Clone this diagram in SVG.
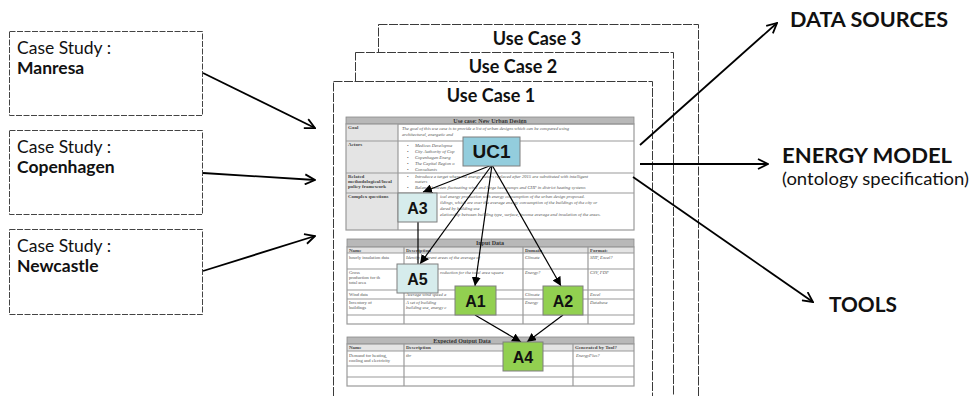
<svg xmlns="http://www.w3.org/2000/svg" width="972" height="396" viewBox="0 0 972 396">
<style>
.page{fill:#fff;stroke:#3a3a3a;stroke-width:1;stroke-dasharray:9 1.5}
.case{fill:#fff;stroke:#444;stroke-width:1;stroke-dasharray:6 1.5}
.lbl{font-family:Lato,"Liberation Sans",sans-serif;fill:#111}
.cs{font-size:17.5px}
.csb{font-size:17.5px;font-weight:bold}
.uct{font-family:Lato,"Liberation Sans",sans-serif;font-size:18px;font-weight:bold;fill:#111;text-anchor:middle}
.big{font-family:Lato,"Liberation Sans",sans-serif;font-size:20px;font-weight:bold;fill:#111}
.out{fill:none;stroke:#000;stroke-width:1.8}
.in{fill:none;stroke:#000;stroke-width:1.2}
.tb{fill:none;stroke:#9a9a9a;stroke-width:1.2}
.hd{fill:#b8b8b8;stroke:#8a8a8a;stroke-width:0.8}
.gc{fill:#e4e4e4}
.th{font-family:"Liberation Serif",serif;font-size:6px;font-weight:bold;fill:#333;text-anchor:middle}
.tc{font-family:"Liberation Serif",serif;font-size:5px;font-weight:bold;fill:#444}
.ti{font-family:"Liberation Serif",serif;font-size:4.6px;font-style:italic;fill:#555}
.tn{font-family:"Liberation Serif",serif;font-size:4.6px;fill:#555}
.nb{stroke:#7f7f7f;stroke-width:1}
.nt{font-family:"Liberation Sans",Arial,sans-serif;font-weight:bold;fill:#111;text-anchor:middle}
</style>
<defs>
<marker id="open" viewBox="0 0 12 12" refX="11" refY="6" markerWidth="12" markerHeight="12" markerUnits="userSpaceOnUse" orient="auto">
<path d="M1,1 L11,6 L1,11" fill="none" stroke="#000" stroke-width="1.8"/>
</marker>
<marker id="tri" viewBox="0 0 10 10" refX="10" refY="5" markerWidth="9" markerHeight="9" markerUnits="userSpaceOnUse" orient="auto">
<path d="M0,0 L10,5 L0,10 Z" fill="#000"/>
</marker>
</defs>

<g id="case-manresa">
<rect class="case" x="9.5" y="31.5" width="193" height="84"/>
<text class="lbl cs" x="17" y="54">Case Study :</text>
<text class="lbl csb" x="17" y="74">Manresa</text>
</g>
<g id="case-copenhagen">
<rect class="case" x="9.5" y="130.5" width="193" height="84"/>
<text class="lbl cs" x="17" y="153">Case Study :</text>
<text class="lbl csb" x="17" y="173">Copenhagen</text>
</g>
<g id="case-newcastle">
<rect class="case" x="9.5" y="229.5" width="193" height="85"/>
<text class="lbl cs" x="17" y="252">Case Study :</text>
<text class="lbl csb" x="17" y="272">Newcastle</text>
</g>

<g id="use-case-3">
<rect class="page" x="378.5" y="24.5" width="320" height="400"/>
<text class="uct" x="537" y="45">Use Case 3</text>
</g>
<g id="use-case-2">
<rect class="page" x="355.5" y="52.5" width="318" height="400"/>
<text class="uct" x="513" y="73">Use Case 2</text>
</g>
<g id="use-case-1">
<rect class="page" x="333.5" y="81.5" width="319" height="400"/>
<text class="uct" x="491" y="102">Use Case 1</text>

<g id="table-use-case">
<rect class="hd" x="346" y="117" width="288" height="7"/>
<text class="th" x="490" y="122.5">Use case: New Urban Design</text>
<rect class="gc" x="346" y="124" width="52" height="106"/>
<rect class="tb" x="346" y="124" width="288" height="106"/>
<line class="tb" x1="398" y1="124" x2="398" y2="230"/>
<line class="tb" x1="346" y1="141" x2="634" y2="141"/>
<line class="tb" x1="346" y1="173" x2="634" y2="173"/>
<line class="tb" x1="346" y1="193" x2="634" y2="193"/>
<text class="tc" x="348" y="129">Goal</text>
<text class="tc" x="348" y="146">Actors</text>
<text class="tc" x="348" y="178">Related</text>
<text class="tc" x="348" y="183">methodological/local</text>
<text class="tc" x="348" y="188">policy framework</text>
<text class="tc" x="348" y="198">Complex questions</text>
<text class="ti" x="402" y="130">The goal of this use case is to provide a list of urban designs which can be compared using</text>
<text class="ti" x="402" y="136">architectural, energetic and</text>
<text class="tn" x="407" y="147">•</text><text class="ti" x="415" y="147">Medicus Developme</text>
<text class="tn" x="407" y="153">•</text><text class="ti" x="415" y="153">City Authority of Cop</text>
<text class="tn" x="407" y="159">•</text><text class="ti" x="415" y="159">Copenhagen Energ</text>
<text class="tn" x="407" y="165">•</text><text class="ti" x="415" y="165">The Capital Region o</text>
<text class="tn" x="407" y="171">•</text><text class="ti" x="415" y="171">Consultants</text>
<text class="tn" x="407" y="178">•</text><text class="ti" x="415" y="178">Introduce a target where the energy meters replaced after 2015 are substituted with intelligent</text>
<text class="ti" x="415" y="183">meters</text>
<text class="tn" x="407" y="189">•</text><text class="ti" x="415" y="189">Balance between fluctuating wind and large heat pumps and CHP in district heating systems</text>
<text class="ti" x="440" y="198">ical energy production with energy consumption of the urban design proposed.</text>
<text class="ti" x="440" y="204">ildings, which are over the average energy consumption of the buildings of the city or</text>
<text class="ti" x="440" y="210">dered by building use</text>
<text class="ti" x="440" y="216">elationship between building type, surface, income average and insulation of the areas.</text>
</g>

<g id="table-input-data">
<rect class="hd" x="347" y="239" width="287" height="8"/>
<text class="th" x="490" y="245">Input Data</text>
<rect class="gc" x="347" y="247" width="287" height="6"/>
<rect class="tb" x="347" y="247" width="287" height="77"/>
<line class="tb" x1="404" y1="247" x2="404" y2="324"/>
<line class="tb" x1="523" y1="247" x2="523" y2="324"/>
<line class="tb" x1="588" y1="247" x2="588" y2="324"/>
<line class="tb" x1="347" y1="253" x2="634" y2="253"/>
<line class="tb" x1="347" y1="269" x2="634" y2="269"/>
<line class="tb" x1="347" y1="290" x2="634" y2="290"/>
<line class="tb" x1="347" y1="299" x2="634" y2="299"/>
<line class="tb" x1="347" y1="315" x2="634" y2="315"/>
<text class="tc" x="349" y="251.5">Name</text>
<text class="tc" x="406" y="251.5">Description</text>
<text class="tc" x="525" y="251.5">Domain</text>
<text class="tc" x="590" y="251.5">Format:</text>
<text class="tn" x="349" y="259">hourly insulation data</text>
<text class="ti" x="406" y="259">Identify different areas of the average of</text>
<text class="ti" x="525" y="259">Climate</text>
<text class="ti" x="590" y="259">SHP, Excel?</text>
<text class="tn" x="349" y="274">Gross</text>
<text class="tn" x="349" y="279">production  for  th</text>
<text class="tn" x="349" y="284">total area</text>
<text class="ti" x="440" y="274">roduction for the total area square</text>
<text class="ti" x="525" y="274">Energy?</text>
<text class="ti" x="590" y="274">CSV, PDF</text>
<text class="tn" x="349" y="296">Wind data</text>
<text class="ti" x="406" y="296">Average wind speed a</text>
<text class="ti" x="525" y="296">Climate</text>
<text class="ti" x="590" y="296">Excel</text>
<text class="tn" x="349" y="304">Inventory               of</text>
<text class="tn" x="349" y="309">buildings</text>
<text class="ti" x="406" y="304">A set of building</text>
<text class="ti" x="406" y="309">building use, energy c</text>
<text class="ti" x="525" y="304">Energy</text>
<text class="ti" x="590" y="304">Database</text>
</g>

<g id="table-output-data">
<rect class="hd" x="347" y="337" width="287" height="7"/>
<text class="th" x="462" y="342.5">Expected Output Data</text>
<rect class="gc" x="347" y="344" width="287" height="7"/>
<rect class="tb" x="347" y="344" width="287" height="42"/>
<line class="tb" x1="404" y1="344" x2="404" y2="386"/>
<line class="tb" x1="573" y1="344" x2="573" y2="386"/>
<line class="tb" x1="347" y1="351" x2="634" y2="351"/>
<line class="tb" x1="347" y1="366" x2="634" y2="366"/>
<line class="tb" x1="347" y1="377" x2="634" y2="377"/>
<text class="tc" x="349" y="349">Name</text>
<text class="tc" x="406" y="349">Description</text>
<text class="tc" x="575" y="349">Generated by Tool?</text>
<text class="tn" x="349" y="357">Demand for heating,</text>
<text class="tn" x="349" y="362">cooling and electricity</text>
<text class="ti" x="406" y="357">tbr</text>
<text class="ti" x="576" y="357">EnergyPlus?</text>
</g>
</g>

<g id="connectors">
<line class="out" x1="203" y1="73" x2="315" y2="128" marker-end="url(#open)"/>
<line class="out" x1="203" y1="173" x2="315" y2="180" marker-end="url(#open)"/>
<line class="out" x1="203" y1="271" x2="315" y2="236" marker-end="url(#open)"/>
<line class="out" x1="640" y1="145" x2="777" y2="23" marker-end="url(#open)"/>
<line class="out" x1="640" y1="164" x2="768" y2="164" marker-end="url(#open)"/>
<line class="out" x1="633" y1="177" x2="813" y2="302" marker-end="url(#open)"/>
<line class="in" x1="492" y1="165" x2="423" y2="192" marker-end="url(#tri)"/>
<line class="in" x1="492" y1="165" x2="420" y2="264" marker-end="url(#tri)"/>
<line class="in" x1="492" y1="165" x2="475" y2="286" marker-end="url(#tri)"/>
<line class="in" x1="492" y1="165" x2="561" y2="286" marker-end="url(#tri)"/>
<line class="in" x1="418" y1="222" x2="418" y2="264"/>
<line class="in" x1="475" y1="315" x2="521" y2="342" marker-end="url(#tri)"/>
<line class="in" x1="563" y1="315" x2="527" y2="342" marker-end="url(#tri)"/>
</g>

<g id="node-uc1">
<rect class="nb" x="463" y="137" width="57" height="29" fill="#93cddd"/>
<text class="nt" x="491.5" y="158" font-size="19">UC1</text>
</g>
<g id="node-a3">
<rect class="nb" x="398" y="193" width="39" height="29" fill="#d6ecec"/>
<text class="nt" x="417.5" y="213.5" font-size="16">A3</text>
</g>
<g id="node-a5">
<rect class="nb" x="397" y="264" width="41" height="29" fill="#d6ecec"/>
<text class="nt" x="417.5" y="284.5" font-size="16">A5</text>
</g>
<g id="node-a1">
<rect class="nb" x="455" y="286" width="41" height="29" fill="#92d050"/>
<text class="nt" x="475.5" y="306.5" font-size="16">A1</text>
</g>
<g id="node-a2">
<rect class="nb" x="543" y="286" width="40" height="29" fill="#92d050"/>
<text class="nt" x="563" y="306.5" font-size="16">A2</text>
</g>
<g id="node-a4">
<rect class="nb" x="503" y="342" width="40" height="29" fill="#92d050"/>
<text class="nt" x="523" y="362.5" font-size="16">A4</text>
</g>

<g id="label-data-sources"><text class="big" x="790" y="27" textLength="158" lengthAdjust="spacingAndGlyphs">DATA SOURCES</text></g>
<g id="label-energy-model">
<text class="big" x="782" y="163" textLength="170" lengthAdjust="spacingAndGlyphs">ENERGY MODEL</text>
<text class="lbl" x="782" y="185" font-size="16.5" textLength="187" lengthAdjust="spacingAndGlyphs">(ontology specification)</text>
</g>
<g id="label-tools"><text class="big" x="829" y="312" textLength="68" lengthAdjust="spacingAndGlyphs">TOOLS</text></g>
</svg>
